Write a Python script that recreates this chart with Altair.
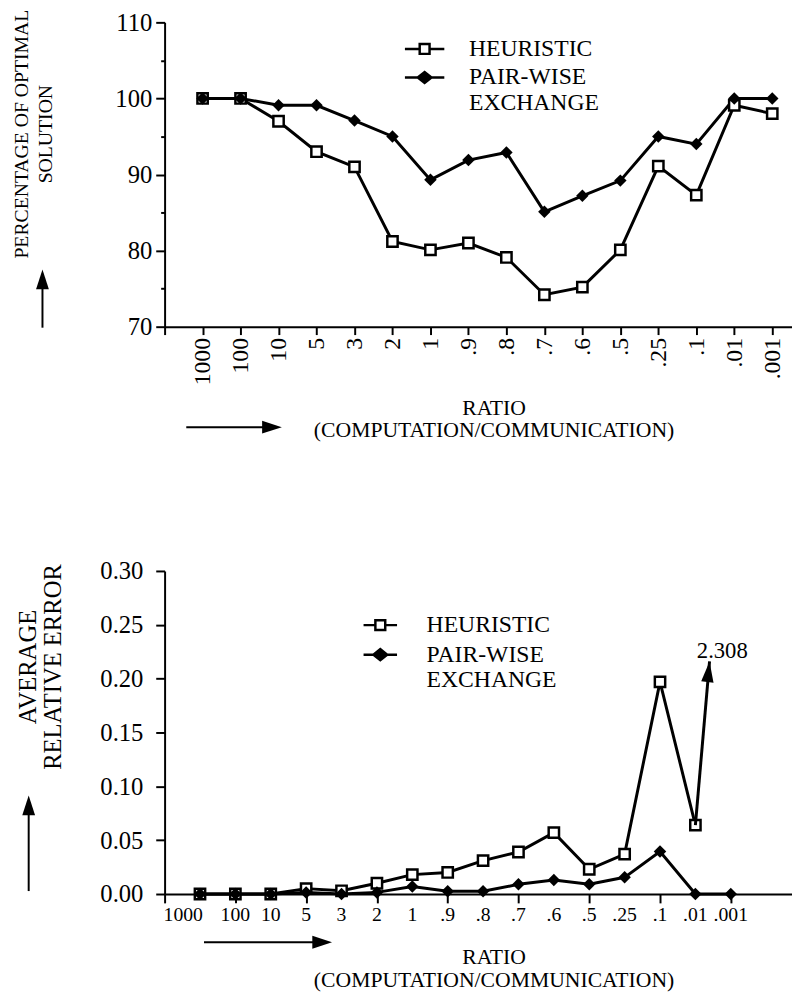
import json
import altair as alt
import pandas as pd

# ---------------- data ----------------
RATIO_LABELS = ["1000", "100", "10", "5", "3", "2", "1", ".9", ".8", ".7",
                ".6", ".5", ".25", ".1", ".01", ".001"]
SERIES = ["HEURISTIC", "PAIR-WISE EXCHANGE"]

PCT_HEURISTIC = [100, 100, 97, 93, 91, 81.2, 80.1, 81, 79.1, 74.2, 75.2, 80.1, 91.1, 87.3, 99.1, 98]
PCT_PAIRWISE = [100, 100, 99.1, 99.1, 97.1, 95, 89.3, 91.9, 92.9, 85.1, 87.2, 89.2, 95, 94, 100, 100]

ERR_HEURISTIC = [0, 0, 0, 0.005, 0.003, 0.010, 0.018, 0.020, 0.031, 0.039, 0.057, 0.023, 0.037, 0.197, 0.064, 2.308]
ERR_PAIRWISE = [0, 0, 0, 0.0015, 0, 0.0015, 0.007, 0.0025, 0.0025, 0.009, 0.013, 0.009, 0.0155, 0.0395, 0, 0]

PCT_TICKS = [70, 75, 80, 85, 90, 95, 100, 105, 110]
ERR_TICKS = [0, 0.025, 0.05, 0.075, 0.1, 0.125, 0.15, 0.175, 0.2, 0.225, 0.25, 0.275, 0.3]

# off-scale annotation for the last HEURISTIC error value (data units)
ARROW_TIP_IDX = 15.4
ARROW_TIP_VAL = 0.216
ARROW_LABEL_IDX = 15.76
ARROW_LABEL_VAL = 0.226

FONT = "Liberation Serif"

HEAD_UP = "M0,-1L0.65,1L-0.65,1Z"
HEAD_RIGHT = "M1,0L-1,0.65L-1,-0.65Z"
HEAD_TIP = "M0,0L0.45,1.5L-0.45,1.5Z"


def legend_paths(half):
    """Legend symbols (line + marker) for a symbol box of 20px (unit = 10px)."""
    h = half / 10.0
    sq = f"M{-h},0H-0.5M0.5,0H{h}M-0.5,-0.5H0.5V0.5H-0.5Z"
    dia = (f"M{-h},0H{h}M-0.7,0L0,-0.56L0.7,0L0,0.56Z"
           "M-0.45,-0.2H0.45M-0.45,0.2H0.45M-0.2,-0.4H0.2M-0.2,0.4H0.2")
    return [sq, dia]


def frame(h, p):
    rows = []
    for i, lab in enumerate(RATIO_LABELS):
        rows.append({"idx": i + 1, "ratio": lab, "series": SERIES[0], "value": h[i]})
        rows.append({"idx": i + 1, "ratio": lab, "series": SERIES[1], "value": p[i]})
    return pd.DataFrame(rows)


top_df = frame(PCT_HEURISTIC, PCT_PAIRWISE)
bot_df = frame(ERR_HEURISTIC, ERR_PAIRWISE)
label_df = pd.DataFrame({"idx": list(range(1, len(RATIO_LABELS) + 1)), "ratio": RATIO_LABELS})

AX = dict(labelFont=FONT, titleFont=FONT, labelColor="black", titleColor="black",
          domainColor="black", tickColor="black", domainWidth=2, tickWidth=2,
          grid=False, titleFontWeight="normal", labelOverlap=False, labelFlush=False)


def series_layers(df, x, y):
    line = alt.Chart(df).mark_line(color="black", strokeWidth=3).encode(
        x=x, y=y, detail="series:N", order="idx:Q")
    squares = alt.Chart(df).transform_filter(
        alt.datum.series == SERIES[0]).mark_point(
        shape="square", filled=True, fill="white", stroke="black",
        strokeWidth=2.5, size=110, opacity=1).encode(x=x, y=y)
    diamonds = alt.Chart(df).transform_filter(
        alt.datum.series == SERIES[1]).mark_point(
        shape="diamond", filled=True, color="black", size=160, opacity=1).encode(x=x, y=y)
    return line, squares, diamonds


def legend_layer(df, x, y, lx, ly, half, offset, rowpad):
    return alt.Chart(df).transform_filter("datum.idx < 0").mark_point(
        filled=False, color="black", opacity=1).encode(
        x=x, y=y,
        shape=alt.Shape("series:N",
                        scale=alt.Scale(domain=SERIES, range=legend_paths(half)),
                        legend=alt.Legend(title=None, orient="none", legendX=lx, legendY=ly,
                                          labelFont=FONT, labelFontSize=24, labelColor="black",
                                          labelLimit=400, labelOffset=offset,
                                          labelExpr="split(datum.label, ' ')",
                                          symbolSize=400, symbolStrokeWidth=2.5,
                                          symbolStrokeColor="black", symbolOpacity=1,
                                          symbolFillColor="transparent",
                                          rowPadding=rowpad, padding=0)))


one = alt.Data(values=[{}])

# ---------------- top chart ----------------
x_top = alt.X("idx:Q", scale=alt.Scale(domain=[0, 16.52], nice=False, zero=False),
              axis=alt.Axis(values=list(range(17)),
                            labelExpr=json.dumps([""] + RATIO_LABELS) + "[datum.value]",
                            labelAngle=270, labelFontSize=24, tickSize=8, labelPadding=3,
                            title=["RATIO", "(COMPUTATION/COMMUNICATION)"], titleFontSize=22,
                            titleX=334, titleY=72, titleBaseline="top", titleAlign="center",
                            titleLineHeight=23, **AX))
y_top = alt.Y("value:Q", scale=alt.Scale(domain=[70, 110], nice=False, zero=False),
              axis=alt.Axis(values=PCT_TICKS,
                            labelExpr="datum.value % 10 == 0 ? datum.label : ''",
                            tickSize={"condition": {"test": "datum.value % 10 == 0", "value": 9},
                                      "value": 4},
                            labelFontSize=25, labelPadding=4,
                            title=["PERCENTAGE OF OPTIMAL", "SOLUTION"], titleFontSize=20,
                            titleX=-155, titleY=113, titleAngle=270, titleAlign="center",
                            titleBaseline="top", titleLineHeight=24, **AX))

t_line, t_sq, t_dia = series_layers(top_df, x_top, y_top)
t_leg = legend_layer(top_df, x_top, y_top, 252, 15, 20, 33, 5)

t_vrule = alt.Chart(one).mark_rule(color="black", strokeWidth=2).encode(
    x=alt.value(-124), y=alt.value(310), y2=alt.value(263))
t_vhead = alt.Chart(one).mark_point(shape=HEAD_UP, filled=True, color="black", size=400,
                                    opacity=1).encode(x=alt.value(-124), y=alt.value(261))
t_hrule = alt.Chart(one).mark_rule(color="black", strokeWidth=2).encode(
    x=alt.value(22), x2=alt.value(102), y=alt.value(411))
t_hhead = alt.Chart(one).mark_point(shape=HEAD_RIGHT, filled=True, color="black", size=400,
                                    opacity=1).encode(x=alt.value(109), y=alt.value(411))

top = alt.layer(t_line, t_sq, t_dia, t_leg, t_vrule, t_vhead, t_hrule, t_hhead).properties(
    width=637, height=309)

# ---------------- bottom chart ----------------
x_bot = alt.X("idx:Q", scale=alt.Scale(domain=[0, 17.73], nice=False, zero=False),
              axis=alt.Axis(values=list(range(18)), labels=False, tickSize=9,
                            title=["RATIO", "(COMPUTATION/COMMUNICATION)"], titleFontSize=22,
                            titleX=334, titleY=54, titleBaseline="top", titleAlign="center",
                            titleLineHeight=23, **AX))
y_bot = alt.Y("value:Q", scale=alt.Scale(domain=[0, 0.3], nice=False, zero=False),
              axis=alt.Axis(values=ERR_TICKS, format=".2f",
                            labelExpr="round(datum.value * 1000) % 50 == 0 ? datum.label : ''",
                            tickSize={"condition": {"test": "round(datum.value * 1000) % 50 == 0",
                                                    "value": 9}, "value": 4},
                            labelFontSize=25, labelPadding=13,
                            title=["AVERAGE", "RELATIVE ERROR"], titleFontSize=25,
                            titleX=-151, titleY=97, titleAngle=270, titleAlign="center",
                            titleBaseline="top", titleLineHeight=25, **AX))

bot_in = bot_df[bot_df["value"] <= 0.3]
b_line, b_sq, b_dia = series_layers(bot_in, x_bot, y_bot)
b_leg = legend_layer(bot_in, x_bot, y_bot, 207, 43, 17, 35, 6)

# x tick labels of the lower panel (through the x scale)
b_xlab_first = alt.Chart(label_df).transform_filter("datum.idx == 1").mark_text(
    font=FONT, fontSize=20, color="black", align="right", baseline="top", dx=3).encode(
    x="idx:Q", y=alt.value(339), text="ratio:N")
b_xlab_rest = alt.Chart(label_df).transform_filter("datum.idx > 1").mark_text(
    font=FONT, fontSize=20, color="black", align="center", baseline="top").encode(
    x="idx:Q", y=alt.value(339), text="ratio:N")

last_h = ERR_HEURISTIC[-1]
arrow_df = pd.DataFrame([{
    "idx": len(RATIO_LABELS) - 1, "value": ERR_HEURISTIC[-2],
    "idx2": ARROW_TIP_IDX, "value2": ARROW_TIP_VAL}])
tip_df = pd.DataFrame([{"idx": ARROW_TIP_IDX, "value": ARROW_TIP_VAL}])
lab_df = pd.DataFrame([{"idx": ARROW_LABEL_IDX, "value": ARROW_LABEL_VAL,
                        "text": f"{last_h:.3f}"}])

b_arrow = alt.Chart(arrow_df).mark_rule(color="black", strokeWidth=3).encode(
    x="idx:Q", y="value:Q", x2="idx2:Q", y2="value2:Q")
b_tip = alt.Chart(tip_df).mark_point(shape=HEAD_TIP, filled=True, color="black", size=784,
                                     angle=6, opacity=1).encode(x="idx:Q", y="value:Q")
b_lab = alt.Chart(lab_df).mark_text(font=FONT, fontSize=23, color="black").encode(
    x="idx:Q", y="value:Q", text="text:N")

b_vrule = alt.Chart(one).mark_rule(color="black", strokeWidth=2).encode(
    x=alt.value(-138), y=alt.value(325), y2=alt.value(245))
b_vhead = alt.Chart(one).mark_point(shape=HEAD_UP, filled=True, color="black", size=400,
                                    opacity=1).encode(x=alt.value(-138), y=alt.value(238))
b_hrule = alt.Chart(one).mark_rule(color="black", strokeWidth=2).encode(
    x=alt.value(40), x2=alt.value(155), y=alt.value(377))
b_hhead = alt.Chart(one).mark_point(shape=HEAD_RIGHT, filled=True, color="black", size=400,
                                    opacity=1).encode(x=alt.value(160), y=alt.value(377))

bottom = alt.layer(b_line, b_sq, b_dia, b_leg, b_arrow, b_tip, b_lab, b_xlab_first, b_xlab_rest,
                   b_vrule, b_vhead, b_hrule, b_hhead).properties(width=637, height=328)

chart = alt.vconcat(top, bottom, spacing=120).resolve_scale(
    shape="independent").properties(
    padding={"left": 4, "top": -7, "right": 0, "bottom": 0},
    background="white").configure_view(stroke=None)

chart.save("out.html", embed_options={"renderer": "svg", "actions": False})
